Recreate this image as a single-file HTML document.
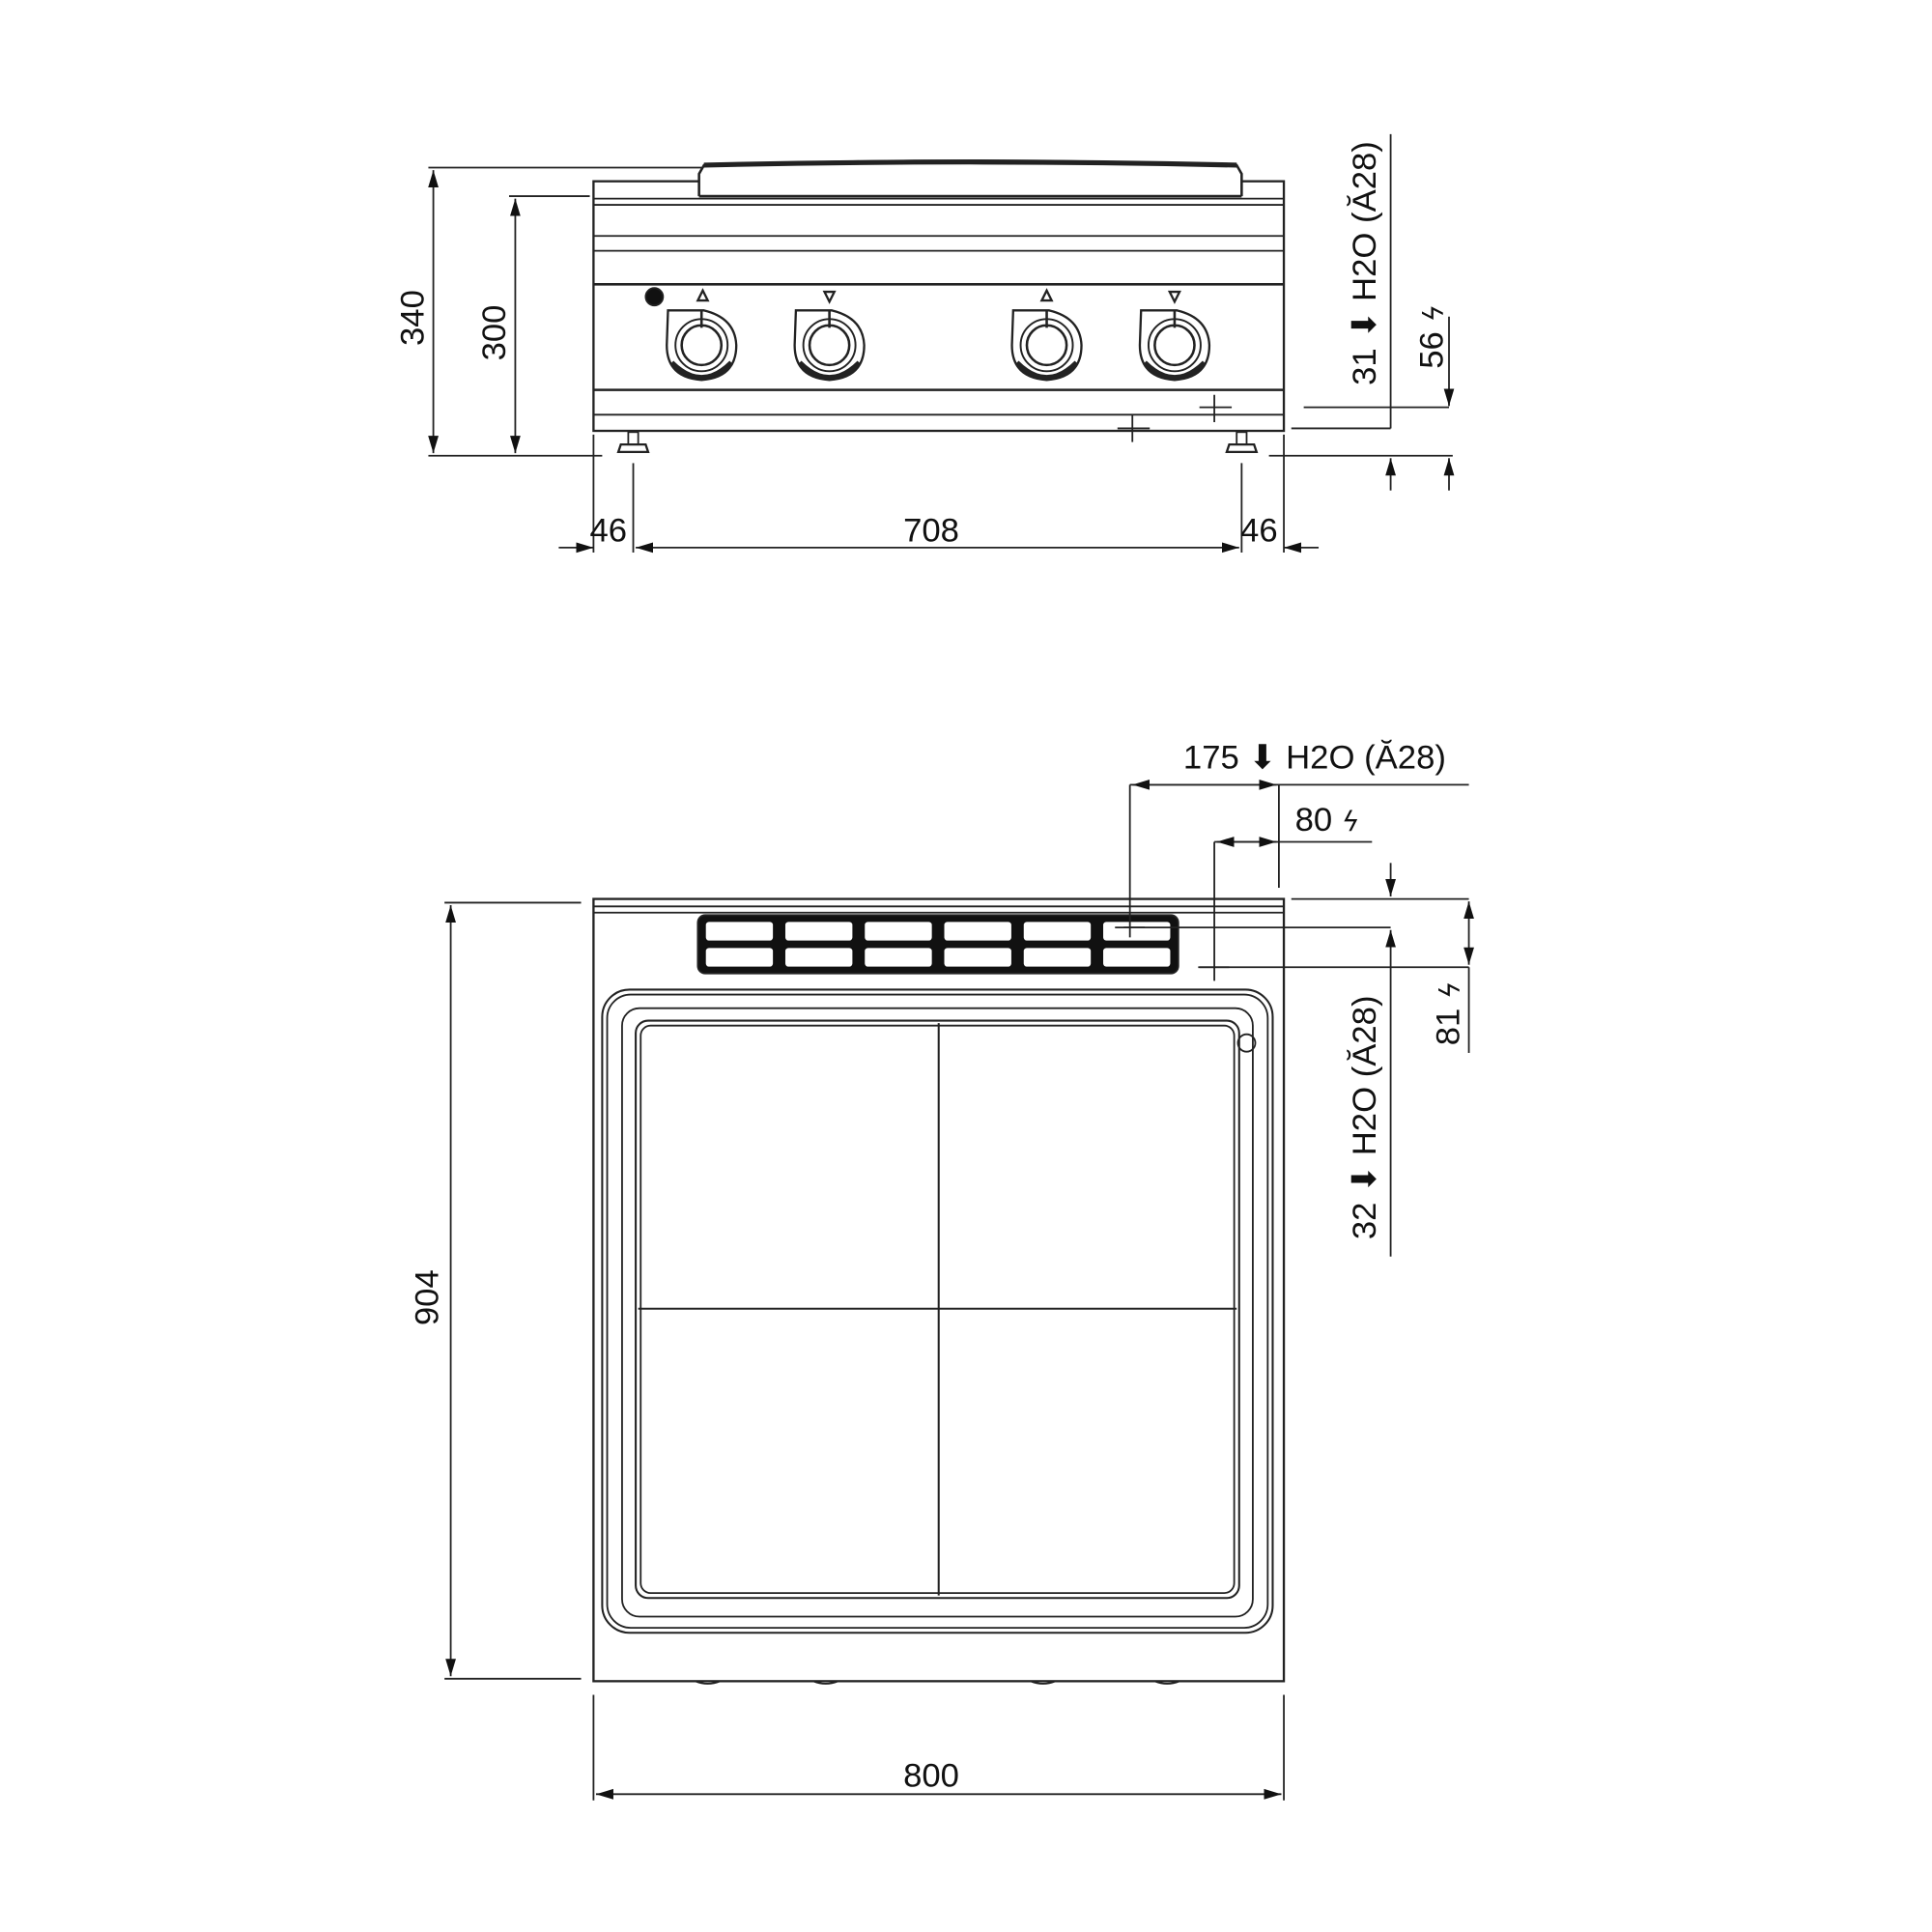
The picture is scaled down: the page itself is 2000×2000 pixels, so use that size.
<!DOCTYPE html>
<html><head><meta charset="utf-8"><style>
html,body{margin:0;padding:0;background:#fff;}
svg{display:block;}
text{font-family:"Liberation Sans","DejaVu Sans",sans-serif;fill:#111;font-size:27px;}
.b{font-family:"DejaVu Sans",sans-serif;font-style:italic;font-size:22px;}
</style></head><body>
<svg width="2000" height="2000" viewBox="0 0 1556 1556" xmlns="http://www.w3.org/2000/svg">
<defs>
<marker id="a" viewBox="0 0 10 10" refX="10" refY="5" markerWidth="14" markerHeight="14" markerUnits="userSpaceOnUse" orient="auto-start-reverse"><path d="M0,2 L10,5 L0,8 z" fill="#111"/></marker>
<g id="k" fill="none" stroke="#222">
<path d="M-27 -26 L2 -26 Q27 -20 28 2 Q28 28 0 30 Q-28 28 -28 2 Z" stroke-width="1.8"/>
<circle cx="0" cy="2" r="21" stroke-width="1.5"/>
<circle cx="0" cy="2" r="16" stroke-width="2"/>
<path d="M-24 16 Q0 40 24 16" stroke-width="4"/>
<line x1="0" y1="-26" x2="0" y2="-12" stroke-width="2"/>
</g>
<g id="f" fill="none" stroke="#222"><rect x="-4" y="0" width="8" height="10"/><path d="M-10 10 L10 10 L12 16 L-12 16 Z" stroke-width="1.8"/></g>
</defs>
<g fill="none" stroke="#222" stroke-width="1.4">
<!-- FRONT VIEW -->
<line x1="345" y1="135" x2="565" y2="135"/>
<line x1="345" y1="367" x2="485" y2="367"/>
<line x1="349" y1="137" x2="349" y2="365" marker-start="url(#a)" marker-end="url(#a)"/>
<line x1="410" y1="158" x2="475" y2="158"/>
<line x1="415" y1="160" x2="415" y2="365" marker-start="url(#a)" marker-end="url(#a)"/>
<rect x="478" y="146" width="556" height="201" stroke-width="1.8"/>
<path d="M563 158 L563 140 L567 133 Q780 126 996 133 L1000 140 L1000 158" stroke-width="2" fill="#fff"/>
<path d="M567 133 Q780 128 996 133" stroke-width="4"/>
<line x1="563" y1="158" x2="1000" y2="158" stroke-width="2"/>
<line x1="478" y1="160" x2="1034" y2="160"/>
<line x1="478" y1="165" x2="1034" y2="165"/>
<line x1="478" y1="190" x2="1034" y2="190"/>
<line x1="478" y1="202" x2="1034" y2="202"/>
<line x1="478" y1="229" x2="1034" y2="229" stroke-width="2"/>
<line x1="478" y1="314" x2="1034" y2="314" stroke-width="2"/>
<line x1="478" y1="334" x2="1034" y2="334"/>
<circle cx="527" cy="239" r="7" fill="#111"/>
<use href="#k" x="565" y="276"/>
<use href="#k" x="668" y="276"/>
<use href="#k" x="843" y="276"/>
<use href="#k" x="946" y="276"/>
<path d="M562 242 L566 234 L570 242 Z" stroke-width="1.8"/>
<path d="M664 235 L672 235 L668 243 Z" stroke-width="1.8"/>
<path d="M839 242 L843 234 L847 242 Z" stroke-width="1.8"/>
<path d="M942 235 L950 235 L946 243 Z" stroke-width="1.8"/>
<line x1="966" y1="328" x2="992" y2="328"/><line x1="978" y1="318" x2="978" y2="340"/>
<line x1="900" y1="345" x2="926" y2="345"/><line x1="912" y1="334" x2="912" y2="356"/>
<use href="#f" x="510" y="348"/>
<use href="#f" x="1000" y="348"/>
<line x1="510" y1="373" x2="510" y2="445"/>
<line x1="1000" y1="373" x2="1000" y2="445"/>
<line x1="478" y1="350" x2="478" y2="445"/>
<line x1="1034" y1="350" x2="1034" y2="445"/>
<line x1="512" y1="441" x2="998" y2="441" marker-start="url(#a)" marker-end="url(#a)"/>
<line x1="450" y1="441" x2="478" y2="441" marker-end="url(#a)"/>
<line x1="1062" y1="441" x2="1034" y2="441" marker-end="url(#a)"/>
<line x1="1120" y1="108" x2="1120" y2="345"/>
<line x1="1167" y1="255" x2="1167" y2="327" marker-end="url(#a)"/>
<line x1="1040" y1="345" x2="1120" y2="345"/>
<line x1="1050" y1="328" x2="1167" y2="328"/>
<line x1="1022" y1="367" x2="1170" y2="367"/>
<line x1="1120" y1="395" x2="1120" y2="369" marker-end="url(#a)"/>
<line x1="1167" y1="395" x2="1167" y2="369" marker-end="url(#a)"/>

<!-- TOP VIEW -->
<rect x="478" y="724" width="556" height="630" stroke-width="1.8"/>
<line x1="478" y1="730" x2="1034" y2="730"/>
<line x1="478" y1="735" x2="1034" y2="735"/>
<path d="M560 1354 Q570 1358 580 1354 M655 1354 Q665 1358 675 1354 M830 1354 Q840 1358 850 1354 M930 1354 Q940 1358 950 1354"/>
<rect x="562" y="737" width="387" height="47" rx="6" fill="#111"/>
<g fill="#fff" stroke="#111" stroke-width="1">
<rect x="568" y="742" width="55" height="16" rx="3"/><rect x="632" y="742" width="55" height="16" rx="3"/><rect x="696" y="742" width="55" height="16" rx="3"/><rect x="760" y="742" width="55" height="16" rx="3"/><rect x="824" y="742" width="55" height="16" rx="3"/><rect x="888" y="742" width="55" height="16" rx="3"/>
<rect x="568" y="763" width="55" height="16" rx="3"/><rect x="632" y="763" width="55" height="16" rx="3"/><rect x="696" y="763" width="55" height="16" rx="3"/><rect x="760" y="763" width="55" height="16" rx="3"/><rect x="824" y="763" width="55" height="16" rx="3"/><rect x="888" y="763" width="55" height="16" rx="3"/>
</g>
<rect x="485" y="797" width="540" height="518" rx="22" stroke-width="1.6"/>
<rect x="489" y="801" width="532" height="510" rx="19"/>
<rect x="501" y="812" width="508" height="490" rx="14"/>
<rect x="512" y="822" width="486" height="465" rx="10" stroke-width="1.6"/>
<rect x="516" y="826" width="478" height="457" rx="8"/>
<line x1="756" y1="824" x2="756" y2="1285" stroke-width="1.6"/>
<line x1="514" y1="1054" x2="996" y2="1054" stroke-width="1.6"/>
<circle cx="1004" cy="840" r="7"/>
<line x1="358" y1="727" x2="468" y2="727"/>
<line x1="358" y1="1352" x2="468" y2="1352"/>
<line x1="363" y1="729" x2="363" y2="1350" marker-start="url(#a)" marker-end="url(#a)"/>
<line x1="478" y1="1365" x2="478" y2="1450"/>
<line x1="1034" y1="1365" x2="1034" y2="1450"/>
<line x1="480" y1="1445" x2="1032" y2="1445" marker-start="url(#a)" marker-end="url(#a)"/>
<line x1="910" y1="632" x2="1183" y2="632"/>
<line x1="912" y1="632" x2="1028" y2="632" marker-start="url(#a)" marker-end="url(#a)"/>
<line x1="910" y1="632" x2="910" y2="755"/>
<line x1="898" y1="747" x2="922" y2="747"/>
<line x1="1030" y1="632" x2="1030" y2="715"/>
<line x1="978" y1="678" x2="1105" y2="678"/>
<line x1="980" y1="678" x2="1028" y2="678" marker-start="url(#a)" marker-end="url(#a)"/>
<line x1="978" y1="678" x2="978" y2="790"/>
<line x1="966" y1="779" x2="990" y2="779"/>
<line x1="1040" y1="724" x2="1183" y2="724"/>
<line x1="905" y1="747" x2="1120" y2="747"/>
<line x1="965" y1="779" x2="1183" y2="779"/>
<line x1="1120" y1="695" x2="1120" y2="722" marker-end="url(#a)"/>
<line x1="1120" y1="1012" x2="1120" y2="749" marker-end="url(#a)"/>
<line x1="1183" y1="726" x2="1183" y2="777" marker-start="url(#a)" marker-end="url(#a)"/>
<line x1="1183" y1="779" x2="1183" y2="848"/>
</g>
<text x="349" y="256" text-anchor="middle" transform="rotate(-90 349 256)" dy="-8">340</text>
<text x="415" y="268" text-anchor="middle" transform="rotate(-90 415 268)" dy="-8">300</text>
<text x="490" y="436" text-anchor="middle">46</text>
<text x="750" y="436" text-anchor="middle">708</text>
<text x="1014" y="436" text-anchor="middle">46</text>
<text x="1108" y="212" text-anchor="middle" transform="rotate(-90 1108 212)">31 ⬇ H2O (Ă28)</text>
<text x="1162" y="271" text-anchor="middle" transform="rotate(-90 1162 271)">56 <tspan class="b">ϟ</tspan></text>
<text x="953" y="619">175 ⬇ H2O (Ă28)</text>
<text x="1043" y="669">80 <tspan class="b">ϟ</tspan></text>
<text x="1108" y="900" text-anchor="middle" transform="rotate(-90 1108 900)">32 ⬇ H2O (Ă28)</text>
<text x="1175" y="816" text-anchor="middle" transform="rotate(-90 1175 816)">81 <tspan class="b">ϟ</tspan></text>
<text x="353" y="1045" text-anchor="middle" transform="rotate(-90 353 1045)">904</text>
<text x="750" y="1439" text-anchor="middle">800</text>
</svg>
</body></html>
